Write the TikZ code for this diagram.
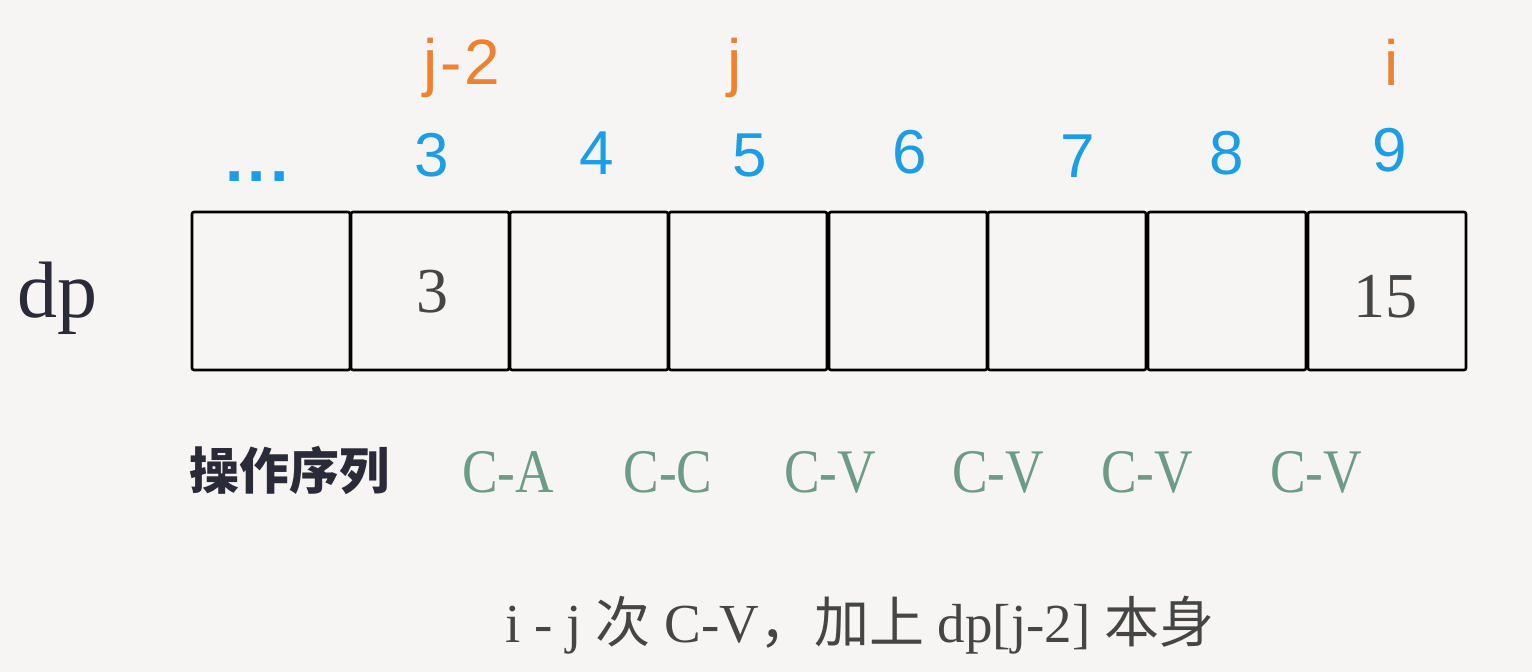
\documentclass[tikz,border=0pt]{standalone}
\usepackage{fontspec}
\setmainfont{Liberation Serif}
\newfontfamily\cjk{Noto Sans CJK SC}
\newfontfamily\hand{Liberation Sans}
\definecolor{bg}{HTML}{F6F5F3}
\definecolor{idxblue}{HTML}{1C9DE6}
\definecolor{ptrorange}{HTML}{EE8230}
\definecolor{opgreen}{HTML}{6C9B86}
\definecolor{darkink}{HTML}{2B2A38}
\definecolor{valgray}{HTML}{454545}
\begin{document}
\begin{tikzpicture}[x=1pt,y=-1pt,
  cell/.style={draw=black,line width=2.6pt,rounded corners=2pt,minimum width=158pt,minimum height=158pt,inner sep=0pt},
  idx/.style={text=idxblue,font=\hand\fontsize{62}{62}\selectfont,inner sep=0pt},
  ptr/.style={text=ptrorange,font=\hand\fontsize{64}{64}\selectfont,inner sep=0pt},
  op/.style={text=opgreen,font=\fontsize{62}{62}\selectfont,xscale=0.86,inner sep=0pt},
  val/.style={text=valgray,font=\fontsize{64}{64}\selectfont,inner sep=0pt}]
\fill[bg] (0,0) rectangle (1532,672);
\useasboundingbox (0,0) rectangle (1532,672);
% cells
\foreach \i/\x in {0/271,1/430,2/589,3/748,4/908,5/1067,6/1227,7/1387}{
  \node[cell] (c\i) at (\x,291) {};
}
\node[val] (v1) at (432,292) {3};
\node[val] (v7) at (1385,297) {15};
\node[text=darkink,font=\fontsize{80}{80}\selectfont,inner sep=0pt] (dp) at (57,298) {dp};
% indices
\node[idx,font=\hand\bfseries\fontsize{66}{66}\selectfont] (dots) at (257,177) {.\kern4pt.\kern4pt.};
\node[idx] (n3) at (432,155) {3};
\node[idx] (n4) at (597,153) {4};
\node[idx] (n5) at (750,155) {5};
\node[idx] (n6) at (910,152) {6};
\node[idx] (n7) at (1078,156) {7};
\node[idx] (n8) at (1227,153) {8};
\node[idx] (n9) at (1390,150) {9};
% pointers
\node[ptr] (pj2) at (462,68) {j\kern3pt-\kern3pt2};
\node[ptr] (pj) at (735,68) {j};
\node[ptr] (pi) at (1392,62) {i};
% operations
\node[text=darkink,font=\cjk\bfseries\fontsize{50}{50}\selectfont,inner sep=0pt] (opl) at (289,470) {操作序列};
\node[op] (o1) at (508,472) {C-A};
\node[op] (o2) at (668,472) {C-C};
\node[op] (o3) at (830,472) {C-V};
\node[op] (o4) at (998,472) {C-V};
\node[op] (o5) at (1147,472) {C-V};
\node[op] (o6) at (1316,472) {C-V};
% caption
\node[text=valgray,font=\fontsize{55}{55}\selectfont,inner sep=0pt] (cap) at (860,625) {i - j {\cjk 次} C-V{\cjk ，加上} dp[j-2] {\cjk 本身}};
\end{tikzpicture}
\end{document}
